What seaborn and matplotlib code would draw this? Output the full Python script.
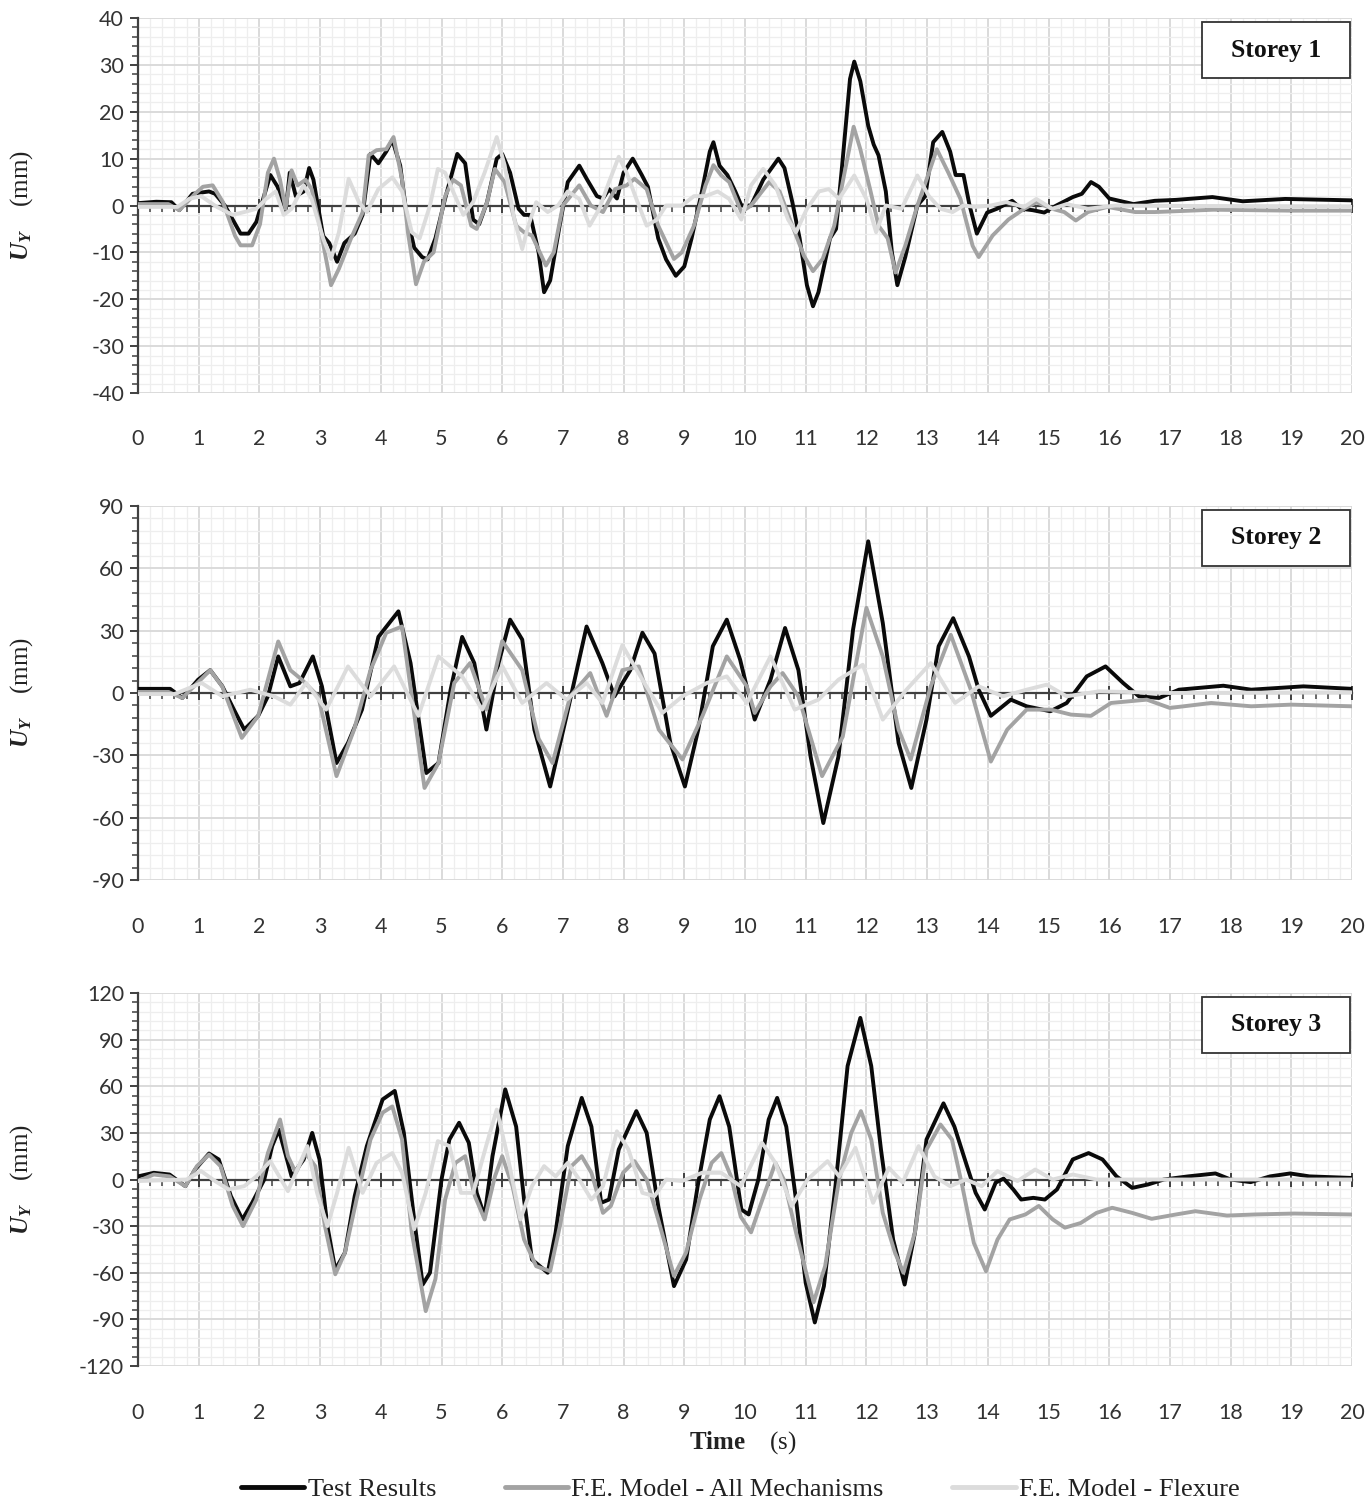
import numpy as np
import pandas as pd
import matplotlib
matplotlib.use("Agg")
import matplotlib.pyplot as plt
import matplotlib.patches as mpatches
from matplotlib.ticker import MultipleLocator
import seaborn as sns

# ---------------- data (time s, displacement mm) ----------------
series_names = ["Test Results", "F.E. Model - All Mechanisms", "F.E. Model - Flexure"]
storey_labels = ["Storey 1", "Storey 2", "Storey 3"]
x_ticks = list(range(0, 21))
y_limits = [40, 90, 120]
y_major = [10, 30, 30]
y_minor = [2, 6, 6]

s1_test = [(0,0.5),(0.3,0.8),(0.55,0.7),(0.68,-1),(0.9,2.5),(1.17,3),(1.27,2.5),(1.43,0),(1.69,-6),(1.82,-6),(1.95,-3.5),(2.11,3.5),(2.18,6.5),(2.3,4),(2.43,-1.5),(2.5,7),(2.6,2),(2.73,3),(2.82,8),(2.89,5.5),(3.05,-6.5),(3.15,-8),(3.28,-12),(3.4,-8),(3.57,-6),(3.7,-2),(3.83,11),(3.96,9),(4.09,11.5),(4.19,14),(4.32,8.5),(4.42,-1.5),(4.55,-9),(4.68,-11),(4.77,-11.5),(4.9,-7),(5.06,1.5),(5.26,11),(5.39,9),(5.52,-3),(5.62,-4),(5.75,0.7),(5.91,10),(6.0,11),(6.13,7),(6.27,-0.7),(6.36,-2),(6.46,-2),(6.6,-10),(6.69,-18.5),(6.79,-16),(6.95,-4),(7.08,5),(7.27,8.5),(7.4,5.5),(7.56,2),(7.66,1.5),(7.76,3.5),(7.89,1.5),(8.0,7),(8.15,10),(8.3,6.5),(8.4,4),(8.57,-7),(8.7,-11.5),(8.86,-15),(9.0,-13),(9.12,-7),(9.29,3),(9.42,11.5),(9.48,13.5),(9.58,8.5),(9.71,6.5),(9.84,3),(9.94,0),(10.1,0),(10.3,5.5),(10.55,10),(10.65,8),(10.78,0.7),(10.9,-7),(11.02,-17),(11.12,-21.5),(11.21,-18.5),(11.4,-7),(11.5,-5),(11.6,8.5),(11.73,27),(11.8,30.7),(11.9,26.5),(12.03,17),(12.12,13),(12.2,10.7),(12.32,3),(12.42,-10),(12.51,-17),(12.64,-11),(12.84,0),(12.97,2),(13.1,13.5),(13.25,15.7),(13.38,11.5),(13.47,6.5),(13.6,6.5),(13.7,0),(13.82,-6),(13.99,-1.5),(14.15,-0.7),(14.4,1),(14.55,-0.7),(14.74,-1),(14.93,-1.5),(15.13,0),(15.4,1.8),(15.55,2.5),(15.7,5),(15.83,4),(16.0,1.5),(16.4,0.3),(16.75,1),(17.1,1.2),(17.7,1.8),(18.2,0.9),(18.9,1.4),(20,1.1)]
s1_all = [(0,0.3),(0.5,0.3),(0.68,-1),(0.94,2.5),(1.07,4),(1.23,4.3),(1.4,0.7),(1.6,-6.5),(1.69,-8.5),(1.88,-8.5),(2.01,-4),(2.14,7),(2.24,10),(2.34,5.5),(2.43,-0.7),(2.53,7.5),(2.63,4.3),(2.76,5.5),(2.86,3.5),(2.99,-4),(3.18,-17),(3.31,-13.5),(3.51,-7),(3.7,-1.5),(3.8,10.7),(3.93,11.8),(4.09,12),(4.21,14.6),(4.35,5.5),(4.45,-6),(4.58,-16.8),(4.71,-12),(4.87,-10),(5.06,2),(5.19,5.5),(5.32,4.3),(5.49,-4.3),(5.58,-5),(5.75,0.7),(5.88,7.8),(6.04,5),(6.23,-4.3),(6.36,-5.7),(6.49,-6.4),(6.72,-12.8),(6.85,-10),(7.0,0),(7.27,4.3),(7.46,0),(7.66,-1.4),(7.86,3.5),(8.05,4.3),(8.18,5.7),(8.38,3.5),(8.57,-4.3),(8.83,-11.4),(8.96,-10),(9.16,-4.3),(9.35,4.3),(9.48,8.6),(9.61,6.4),(9.74,5),(9.94,-1.4),(10.1,0),(10.4,5),(10.57,3),(10.78,-4.3),(10.97,-10.7),(11.12,-14),(11.28,-11.4),(11.47,-4.3),(11.64,7),(11.79,16.8),(11.9,12),(12.06,3.5),(12.2,-4.3),(12.35,-7),(12.48,-14.3),(12.64,-8.6),(12.84,0),(13.03,7),(13.16,12),(13.35,7),(13.55,1.4),(13.75,-8.6),(13.85,-11),(14.08,-6.4),(14.34,-3),(14.6,-0.7),(14.8,0.7),(15.06,-0.7),(15.26,-1.4),(15.45,-3.2),(15.65,-1.4),(15.97,-0.3),(16.43,-1.4),(16.75,-1.4),(17.72,-0.9),(19,-1.1),(20,-1.1)]
s1_flex = [(0,-0.3),(0.65,-0.3),(0.84,1.4),(1.04,2),(1.3,-0.3),(1.56,-2),(1.75,-1.4),(1.95,-0.7),(2.11,1.4),(2.27,3),(2.4,-2),(2.53,-0.7),(2.73,4.3),(2.86,1.4),(3.05,-7),(3.18,-11.4),(3.31,-5.7),(3.47,5.7),(3.64,0.7),(3.77,-1.4),(3.96,3.5),(4.19,6),(4.35,3),(4.51,-5.7),(4.64,-7),(4.81,0),(4.94,7.8),(5.06,7),(5.19,3),(5.36,-2),(5.52,0.7),(5.71,7),(5.91,14.6),(6.04,8.6),(6.2,-3),(6.33,-9.3),(6.43,-4.3),(6.56,0.7),(6.75,-1.4),(6.92,0),(7.08,3),(7.27,1.4),(7.44,-4.3),(7.6,-0.7),(7.76,5),(7.92,10.4),(8.05,7),(8.21,1.4),(8.38,-4.3),(8.55,-3),(8.7,0),(8.96,0),(9.16,2),(9.35,2),(9.55,3),(9.74,1.4),(9.94,-3),(10.1,4.3),(10.3,7.8),(10.5,4.3),(10.71,-3),(10.84,-5.7),(11.02,-0.7),(11.22,3),(11.38,3.5),(11.55,1.4),(11.8,6.4),(12.0,1.4),(12.16,-5.7),(12.32,0),(12.58,-0.7),(12.84,6.4),(13.03,2),(13.22,-0.7),(13.42,-1.4),(13.6,0),(13.8,-0.3),(14.05,0),(14.3,0.7),(14.6,-0.3),(14.8,1.4),(15.06,-0.7),(15.3,0.3),(15.65,-0.7),(16.1,0),(20,-0.3)]

s2_test = [(0,2),(0.53,2),(0.73,-2.4),(0.99,6.4),(1.19,11),(1.39,3.2),(1.58,-8),(1.75,-17.6),(1.98,-11),(2.14,-1.6),(2.31,17.6),(2.51,3.2),(2.66,4.8),(2.88,17.6),(3.03,3.2),(3.27,-33.7),(3.46,-24),(3.69,-8),(3.96,27),(4.29,39.3),(4.49,14.4),(4.75,-38.5),(4.95,-33.7),(5.15,1.6),(5.34,27),(5.54,14.4),(5.74,-17.6),(5.94,14.4),(6.13,35.3),(6.33,25.7),(6.53,-17.6),(6.79,-45),(7.06,-11),(7.39,32),(7.65,14.4),(7.85,-1.6),(8.11,11),(8.31,29),(8.51,19),(8.77,-24),(9.01,-45),(9.23,-17.6),(9.47,22.5),(9.7,35.3),(9.92,16),(10.16,-12.8),(10.42,6.4),(10.66,31.3),(10.88,11),(11.08,-30.5),(11.29,-62.6),(11.54,-30.5),(11.78,30.5),(12.03,73),(12.27,33.7),(12.53,-24),(12.74,-45.7),(12.99,-12.8),(13.19,22.5),(13.43,36),(13.69,17.6),(13.85,1.6),(14.05,-11),(14.38,-3.2),(14.64,-6.4),(15.03,-8.8),(15.3,-4.8),(15.63,8),(15.94,12.8),(16.23,4.8),(16.49,-1.6),(16.82,-2.4),(17.15,1.6),(17.88,3.5),(18.34,1.6),(19.2,3.2),(20,2)]
s2_all = [(0,0.5),(0.5,0.5),(0.73,-2.4),(1.19,11),(1.39,3),(1.71,-21.6),(1.98,-11),(2.31,24.8),(2.51,11),(2.7,6.4),(2.97,-1.6),(3.27,-40),(3.56,-17.6),(3.83,11),(4.09,29),(4.35,32),(4.51,-1.6),(4.72,-45.7),(4.95,-33.7),(5.21,4.8),(5.47,14.4),(5.74,-8),(6.0,25),(6.33,11),(6.6,-22),(6.83,-33.7),(7.12,-1.6),(7.45,9.6),(7.72,-11),(7.98,11),(8.25,12.8),(8.58,-17.6),(8.97,-32),(9.3,-11),(9.7,17.6),(10.03,3.2),(10.16,-9.6),(10.42,3.2),(10.62,9.6),(10.88,-1.6),(11.27,-40),(11.61,-21),(11.81,11),(12.0,41),(12.27,17.6),(12.53,-17.6),(12.73,-32),(13.06,3.2),(13.39,28),(13.72,1.6),(14.05,-33),(14.32,-17.6),(14.64,-8),(15.04,-8),(15.37,-10.4),(15.7,-11),(16.03,-4.8),(16.62,-3.2),(17.0,-7.2),(17.68,-4.8),(18.34,-6.4),(19,-5.6),(20,-6.4)]
s2_flex = [(0,-0.5),(0.6,-0.5),(1.05,4.8),(1.39,-1.6),(1.85,1.6),(2.24,-1.6),(2.51,-5.6),(2.77,4.8),(3.1,-8),(3.46,12.8),(3.83,-1.6),(4.22,12.8),(4.62,-11),(4.95,17.6),(5.34,8),(5.67,-8),(6.0,13),(6.33,-4.8),(6.73,4.8),(7.06,-3.2),(7.39,4.8),(7.65,-4.8),(7.98,23),(8.31,6.4),(8.64,-9.6),(8.97,-1.6),(9.37,4.8),(9.7,8),(10.03,-4.8),(10.42,17.6),(10.82,-8),(11.21,-3.2),(11.54,6.4),(11.94,13.6),(12.27,-12.8),(12.66,1.6),(13.06,14.4),(13.46,-4.8),(13.85,3.2),(14.25,-1.6),(14.64,1.6),(14.97,4),(15.3,-1.6),(15.83,0.8),(17,0),(20,0.3)]

s3_test = [(0,2),(0.26,4.3),(0.52,3.2),(0.78,-4.3),(0.94,6.4),(1.17,16.7),(1.33,12.9),(1.53,-10.7),(1.72,-25.7),(1.88,-15),(2.08,0),(2.21,21.5),(2.32,32),(2.44,15),(2.53,2),(2.73,12.9),(2.87,30),(2.99,12.9),(3.12,-30),(3.25,-58),(3.41,-47),(3.57,-10.7),(3.77,21.5),(4.03,51.5),(4.23,57),(4.38,30),(4.55,-25.7),(4.69,-67.6),(4.81,-60),(5.0,0),(5.13,25.7),(5.29,36.5),(5.45,23.6),(5.58,-8.6),(5.71,-23.6),(5.84,15),(6.05,58),(6.23,34),(6.36,-12.9),(6.49,-51.5),(6.75,-60),(6.88,-34),(7.08,21.5),(7.31,52.5),(7.47,34),(7.63,-15),(7.76,-12.9),(7.92,19.3),(8.21,44),(8.38,30),(8.57,-17),(8.83,-68.6),(9.03,-51.5),(9.22,-4.3),(9.42,38.6),(9.58,53.6),(9.74,34),(9.94,-19.3),(10.06,-22.5),(10.22,0),(10.39,38.6),(10.53,52.5),(10.68,34),(10.84,-12.9),(11.0,-66.5),(11.15,-92),(11.3,-68.6),(11.49,-4.3),(11.69,73),(11.9,104),(12.08,73),(12.24,19.3),(12.44,-38.6),(12.63,-67.6),(12.8,-34),(12.99,25.7),(13.27,49),(13.45,34),(13.64,10.7),(13.8,-8.6),(13.95,-19.3),(14.13,-2),(14.26,0.6),(14.42,-6.4),(14.55,-12.9),(14.75,-11.8),(14.94,-12.9),(15.14,-6.4),(15.4,12.9),(15.66,17),(15.89,12.9),(16.12,2),(16.38,-5.4),(16.64,-3.2),(16.9,0),(17.3,2),(17.75,3.9),(18.0,0),(18.33,-1.7),(18.65,2),(18.98,3.9),(19.3,2),(20,1)]
s3_all = [(0,-1),(0.26,3.2),(0.52,2),(0.78,-4.3),(0.97,8.6),(1.17,16),(1.36,8.6),(1.56,-17),(1.73,-30),(1.95,-12.9),(2.14,17),(2.34,38.6),(2.47,15),(2.6,4.3),(2.76,17),(2.92,8.6),(3.08,-30),(3.25,-61),(3.41,-47),(3.6,-12.9),(3.83,25.7),(4.03,43),(4.19,47),(4.35,25.7),(4.51,-34),(4.74,-84.7),(4.9,-64),(5.06,-12.9),(5.23,10.7),(5.39,15),(5.55,-10.7),(5.71,-25.7),(5.88,2),(6.0,15),(6.17,-4.3),(6.36,-38.6),(6.56,-55.8),(6.79,-59),(6.95,-30),(7.14,8.6),(7.31,15),(7.47,4.3),(7.66,-21.5),(7.79,-17),(7.99,4.3),(8.18,11.8),(8.38,0),(8.57,-25.7),(8.83,-62),(9.03,-47),(9.25,-12.9),(9.45,10.7),(9.61,17),(9.77,2),(9.93,-24),(10.1,-34),(10.25,-17),(10.5,10.7),(10.64,0),(10.84,-34),(11.13,-79),(11.32,-55.8),(11.55,0),(11.75,30),(11.91,44),(12.08,25.7),(12.27,-21.5),(12.47,-47),(12.61,-60),(12.8,-34),(12.99,19.3),(13.22,35.4),(13.41,25.7),(13.58,-4.3),(13.77,-40.8),(13.97,-59),(14.16,-38.6),(14.36,-25.7),(14.62,-22.5),(14.84,-17),(15.07,-25.7),(15.27,-31),(15.53,-28),(15.79,-21.5),(16.05,-18.2),(16.38,-21.5),(16.7,-25.3),(17.1,-22.5),(17.42,-20.4),(17.94,-23.2),(18.4,-22.5),(19.05,-21.9),(20,-22.5)]
s3_flex = [(0,-1),(0.8,0),(1.04,5.4),(1.27,-1),(1.49,-6.4),(1.75,-4.3),(1.95,2),(2.18,11.8),(2.47,-7.5),(2.79,21.5),(2.95,-8.6),(3.12,-30),(3.28,-8.6),(3.47,20.4),(3.7,-8.6),(3.93,10.7),(4.19,17),(4.35,4.3),(4.55,-32),(4.74,-8.6),(4.94,24.7),(5.13,21.5),(5.32,-8.6),(5.52,-8.6),(5.75,23.6),(5.91,45),(6.1,12.9),(6.3,-25.7),(6.49,-4.3),(6.69,8.6),(6.88,2),(7.08,10.7),(7.27,0),(7.47,-12.9),(7.66,-4.3),(7.89,31),(8.08,19.3),(8.31,-8.6),(8.51,-10.7),(8.7,0),(8.96,-1),(9.29,4.3),(9.61,4.3),(9.93,-4.3),(10.28,23.6),(10.5,10.7),(10.77,-17),(11.03,0),(11.36,11.8),(11.55,2),(11.82,20.4),(12.11,-15),(12.37,7.5),(12.6,-2),(12.86,21.5),(13.12,2),(13.38,-4.3),(13.64,0),(13.9,-4.3),(14.16,5.4),(14.49,-1),(14.78,6.4),(15.07,0),(15.4,3.2),(15.79,0),(20,0)]

storey_data = [
    [s1_test, s1_all, s1_flex],
    [s2_test, s2_all, s2_flex],
    [s3_test, s3_all, s3_flex],
]

rows = []
for si, trio in enumerate(storey_data):
    for name, pts in zip(series_names, trio):
        for t, u in pts:
            rows.append({"storey": storey_labels[si], "series": name, "t": t, "u": u})
df = pd.DataFrame(rows)

# ---------------- style ----------------
sns.set_theme(style="white")
plt.rcParams["font.family"] = ["Lato", "DejaVu Sans"]
plt.rcParams["axes.unicode_minus"] = False
plt.rcParams["mathtext.fontset"] = "custom"
plt.rcParams["mathtext.rm"] = "Liberation Serif"
plt.rcParams["mathtext.it"] = "Liberation Serif:italic:bold"
plt.rcParams["mathtext.bf"] = "Liberation Serif:bold"

palette = {series_names[0]: "#0a0a0a", series_names[1]: "#a3a3a3", series_names[2]: "#dcdcdc"}
serif = "Liberation Serif"
axis_col = "#404040"

fig = plt.figure(figsize=(13.71, 15.10), dpi=100)
ax_left, ax_w = 138 / 1371, 1214 / 1371
tops = [18, 506, 993]
bots = [393, 880, 1366]

axes = []
for i in range(3):
    b = 1 - bots[i] / 1510
    h = (bots[i] - tops[i]) / 1510
    ax = fig.add_axes([ax_left, b, ax_w, h])
    axes.append(ax)
    sub = df[df["storey"] == storey_labels[i]]
    sns.lineplot(data=sub, x="t", y="u", hue="series", hue_order=series_names,
                 palette=palette, estimator=None, sort=False, linewidth=2.8,
                 ax=ax, legend=(i == 0), zorder=3)
    for ln in ax.get_lines():
        ln.set_solid_joinstyle("round")
        ln.set_solid_capstyle("round")

    lim = y_limits[i]
    ax.set_xlim(0, 20)
    ax.set_ylim(-lim, lim)
    ax.set_xticks(x_ticks)
    ax.xaxis.set_minor_locator(MultipleLocator(0.2))
    ax.yaxis.set_major_locator(MultipleLocator(y_major[i]))
    ax.yaxis.set_minor_locator(MultipleLocator(y_minor[i]))
    ax.set_axisbelow(True)
    ax.grid(which="major", color="#d8d8d8", linewidth=1.3)
    ax.grid(which="minor", color="#eeeeee", linewidth=0.9)

    for sp in ["top", "right"]:
        ax.spines[sp].set_visible(False)
    ax.spines["left"].set_color(axis_col)
    ax.spines["left"].set_linewidth(1.6)
    ax.spines["bottom"].set_position(("data", 0))
    ax.spines["bottom"].set_color(axis_col)
    ax.spines["bottom"].set_linewidth(1.6)
    ax.spines["bottom"].set_zorder(1)
    ax.spines["left"].set_zorder(1)

    ax.tick_params(axis="y", which="major", direction="out", length=6, width=1.4,
                   color=axis_col, labelsize=15.5, labelcolor="#333333", pad=4, left=True)
    ax.tick_params(axis="y", which="minor", direction="out", length=4, width=1.1,
                   color=axis_col, left=True)
    ax.tick_params(axis="x", which="major", direction="inout", length=10, width=1.4,
                   color=axis_col, labelsize=15.5, labelcolor="#333333", pad=156, bottom=True)
    ax.tick_params(axis="x", which="minor", direction="out", length=4, width=1.1,
                   color=axis_col, bottom=True)

    ax.set_xlabel("")
    ax.set_ylabel(r"$U_Y$    (mm)", fontfamily=serif, fontsize=18, color="#222222")
    ax.yaxis.set_label_coords(-0.096, 0.5)
    ax.yaxis.label.set_verticalalignment("center")
    ax.yaxis.label.set_horizontalalignment("center")

    # storey label box
    bx0 = (1202 - 138) / 1214
    bw = 148 / 1214
    bh = 56 / (bots[i] - tops[i])
    by0 = 1 - (78 - 18) / (bots[i] - tops[i])
    rect = mpatches.Rectangle((bx0, by0), bw, bh, transform=ax.transAxes,
                              facecolor="white", edgecolor="#333333", linewidth=1.3, zorder=5)
    ax.add_patch(rect)
    ax.text(bx0 + bw / 2, by0 + bh / 2, storey_labels[i], transform=ax.transAxes,
            ha="center", va="center", fontfamily=serif, fontweight="bold",
            fontsize=18.5, color="#111111", zorder=6)

handles, labels = axes[0].get_legend_handles_labels()
axes[0].get_legend().remove()
leg = fig.legend(handles, labels, loc="center", bbox_to_anchor=(0.54, 0.0135), ncol=3,
                 frameon=False, handlelength=2.4, handletextpad=0.12, columnspacing=2.6,
                 prop={"family": serif, "size": 19})
for h in leg.legend_handles:
    h.set_linewidth(3.5)
for txt in leg.get_texts():
    txt.set_color("#222222")

fig.text(0.542, 1 - 1443 / 1510, r"$\mathbf{Time}$    (s)", ha="center", va="center",
         fontfamily=serif, fontsize=18, color="#222222")

fig.savefig("out.png", dpi=100)
